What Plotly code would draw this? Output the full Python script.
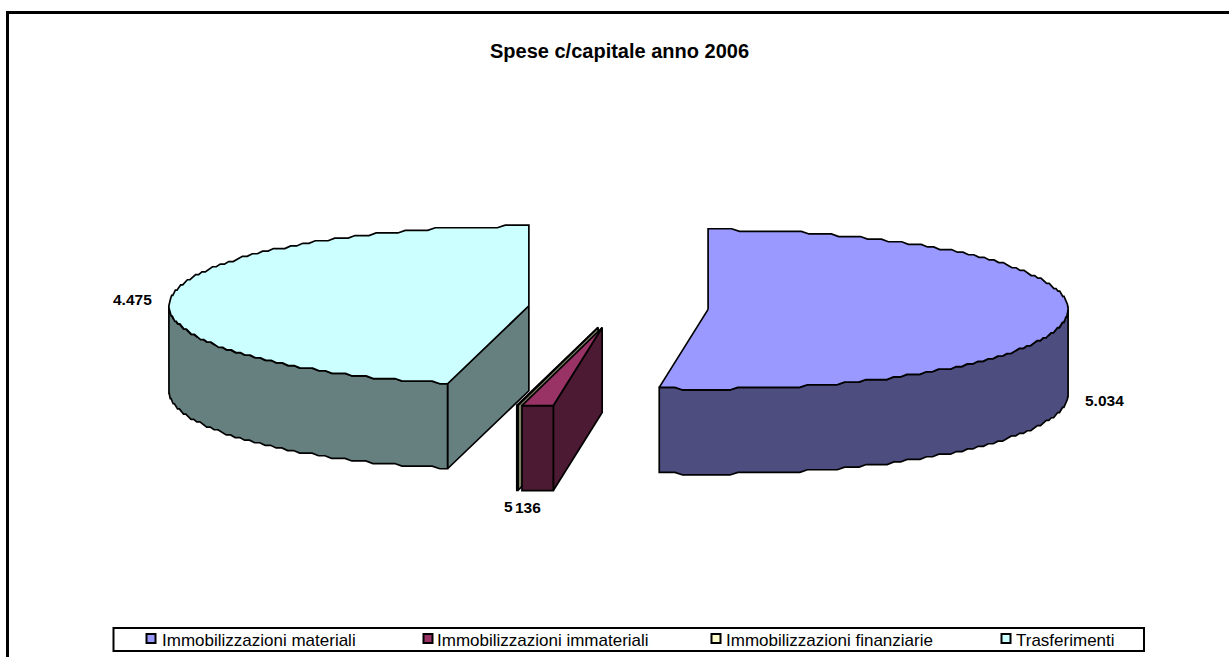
import math
import plotly.graph_objects as go

# ---- data ----
title = "Spese c/capitale anno 2006"
categories = ["Immobilizzazioni materiali", "Immobilizzazioni immateriali",
              "Immobilizzazioni finanziarie", "Trasferimenti"]
values = [5034, 136, 5, 4475]
value_labels = ["5.034", "136", "5", "4.475"]

# ---- colours ----
top_colors = ["#9999FF", "#993366", "#FFFFCC", "#CCFFFF"]
side_colors = ["#4D4D80", "#4D1A33", "#808066", "#668080"]

# ---- pie geometry (3D projection on a 1229x657 canvas) ----
CX, CY = 618.3, 308.0
RX, RY = 360.0, 79.5
DEPTH = 85.0
EXPLODE = 90.0
LINE_W = 1.7
STEP_DEG = 1.25   # the reference's outline is coarsely stepped
STEP_PX = 2.6
label_offset = [(37, 1), (-10, 17), (-9, 16), (-39, 2)]
label_uses_depth = [True, True, True, False]
legend_swatch_x = [151, 428, 716, 1006]
legend_text_x = [160, 435, 724, 1014]


def pt(c, a):
    r = math.radians(a)
    return c[0] + RX * math.sin(r), c[1] - STEP_PX * round(RY * math.cos(r) / STEP_PX)


def arc(c, a, b):
    n = max(1, int(abs(b - a) / STEP_DEG))
    return [pt(c, a + (b - a) * i / n) for i in range(n + 1)]


def poly(fig, pts, color):
    xs = [p[0] for p in pts] + [pts[0][0]]
    ys = [p[1] for p in pts] + [pts[0][1]]
    fig.add_trace(go.Scatter(x=xs, y=ys, mode="lines", fill="toself",
                             fillcolor=color, line=dict(color="black", width=LINE_W),
                             hoverinfo="skip", showlegend=False))


def down(pts):
    return [(x, y + DEPTH) for x, y in pts]


total = sum(values)
slices = []
start = 0.0
for i, v in enumerate(values):
    end = start + 360.0 * v / total
    mid = math.radians((start + end) / 2)
    c = (CX + EXPLODE * math.sin(mid),
         CY - EXPLODE * (RY / RX) * math.cos(mid))
    slices.append((i, start, end, c))
    start = end

fig = go.Figure()
annotations = []

# painter's order: left slice, thin slice, small slice, right slice
for i, a, b, c in [slices[3], slices[2], slices[1], slices[0]]:
    # cut face at the start angle, when it faces the viewer
    if math.cos(math.radians(a - 90)) < -1e-6:
        outer = pt(c, a)
        poly(fig, [c, outer, (outer[0], outer[1] + DEPTH), (c[0], c[1] + DEPTH)], side_colors[i])
    # outer wall
    wa, wb = max(a, 90), min(b, 270)
    if wb > wa:
        edge = arc(c, wa, wb)
        poly(fig, edge + down(edge)[::-1], side_colors[i])
    # top surface
    poly(fig, [c] + arc(c, a, b), top_colors[i])

    mid = (a + b) / 2
    ax, ay = pt(c, mid)
    if label_uses_depth[i]:
        ay += DEPTH
    annotations.append(dict(x=ax + label_offset[i][0], y=ay + label_offset[i][1],
                            text=value_labels[i], showarrow=False,
                            font=dict(family="Liberation Sans", size=15.5, color="black", weight="bold"),
                            xanchor="center", yanchor="middle"))

annotations.append(dict(x=619, y=51, text=title, showarrow=False,
                        font=dict(family="Liberation Sans", size=20, color="black", weight="bold"),
                        xanchor="center", yanchor="middle"))

# legend
fig.add_trace(go.Scatter(x=legend_swatch_x, y=[638.5] * 4, mode="markers",
                         marker=dict(symbol="square", size=9, color=top_colors,
                                     line=dict(color="black", width=2)),
                         hoverinfo="skip", showlegend=False))
for name, tx in zip(categories, legend_text_x):
    annotations.append(dict(x=tx, y=640, text=name, showarrow=False,
                            font=dict(family="Liberation Sans", size=17, color="black"),
                            xanchor="left", yanchor="middle"))

shapes = [
    dict(type="path", path="M 7.5 657 L 7.5 12.5 L 1229 12.5",
         line=dict(color="black", width=3), layer="above"),
    dict(type="rect", x0=113.5, x1=1144, y0=628, y1=651,
         line=dict(color="black", width=2), layer="below"),
]

fig.update_layout(width=1229, height=657, margin=dict(l=0, r=0, t=0, b=0),
                  paper_bgcolor="white", plot_bgcolor="white",
                  xaxis=dict(range=[0, 1229], visible=False, fixedrange=True),
                  yaxis=dict(range=[657, 0], visible=False, fixedrange=True),
                  annotations=annotations, shapes=shapes, showlegend=False)

fig.write_html("out.html", config=dict(displayModeBar=False),
               post_script="document.body.style.margin='0';document.body.style.overflow='hidden';")
